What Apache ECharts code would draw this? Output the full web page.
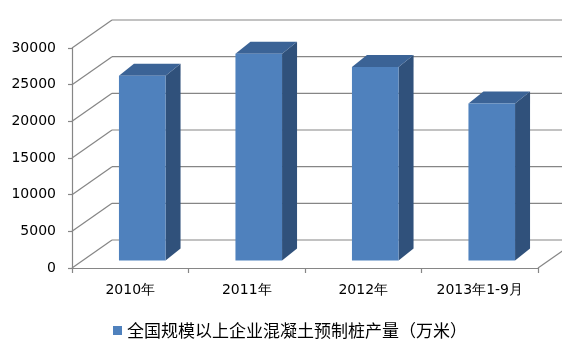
<!DOCTYPE html>
<html>
<head>
<meta charset="utf-8">
<script src="https://cdn.jsdelivr.net/npm/echarts@6/dist/echarts.min.js"></script>
<style>html,body{margin:0;padding:0;background:#fff;}#c{width:562px;height:349px;}</style>
</head>
<body>
<div id="c"></div>
<script>
const categories = ['2010年', '2011年', '2012年', '2013年1-9月'];
const values = [25200, 28200, 26400, 21400];
const yTicks = [0, 5000, 10000, 15000, 20000, 25000, 30000];
const seriesName = '全国规模以上企业混凝土预制桩产量（万米）';

// 3D styling constants (pixels)
const WALL_DX = 40, WALL_DY = -28;   // back wall offset
const FRONT_DX = 12, FRONT_DY = -7.5; // bar front face offset
const DEPTH_DX = 15, DEPTH_DY = -12;  // bar depth
const GRID_COLOR = '#868686';

const chart = echarts.init(document.getElementById('c'), null, {renderer: 'canvas'});

function gridItem(params, api) {
  const v = api.value(1);
  const band = api.size([1, 0])[0];
  const L = api.coord([0, v]);
  const R = api.coord([categories.length - 1, v]);
  const lx = L[0] - band / 2, rx = R[0] + band / 2, y = L[1];
  const style = {stroke: GRID_COLOR, lineWidth: 1.2, fill: null};
  const children = [
    {type: 'line', shape: {x1: lx, y1: y, x2: lx + WALL_DX, y2: y + WALL_DY}, style: style},
    {type: 'line', shape: {x1: lx + WALL_DX, y1: y + WALL_DY, x2: rx + WALL_DX + 40, y2: y + WALL_DY}, style: style}
  ];
  if (v === 0) {
    children.push({type: 'line', shape: {x1: rx, y1: y, x2: rx + WALL_DX, y2: y + WALL_DY}, style: style});
  }
  return {type: 'group', children: children, silent: true};
}

function barItem(params, api) {
  const idx = api.value(0), v = api.value(1);
  const base = api.coord([idx, 0]);
  const top = api.coord([idx, v]);
  const band = api.size([1, 0])[0];
  const w = band * 0.4;
  const x0 = base[0] - w / 2 + FRONT_DX, x1 = x0 + w;
  const yb = base[1] + FRONT_DY, yt = top[1] + FRONT_DY;
  return {
    type: 'group',
    children: [
      {type: 'polygon', shape: {points: [[x1, yt], [x1 + DEPTH_DX, yt + DEPTH_DY], [x1 + DEPTH_DX, yb + DEPTH_DY], [x1, yb]]},
        style: {fill: '#30517b'}},
      {type: 'polygon', shape: {points: [[x0, yt], [x0 + DEPTH_DX, yt + DEPTH_DY], [x1 + DEPTH_DX, yt + DEPTH_DY], [x1, yt]]},
        style: {fill: '#3b6396'}},
      {type: 'rect', shape: {x: x0, y: yt, width: w, height: yb - yt}, style: {fill: '#4f81bd'}}
    ]
  };
}

chart.setOption({
  animation: false,
  backgroundColor: '#ffffff',
  grid: {left: 72, right: 24, top: 48, bottom: 81, containLabel: false},
  legend: {
    data: [seriesName],
    left: 113, top: 322, padding: 0,
    icon: 'rect', itemWidth: 9, itemHeight: 9, itemGap: 5,
    textStyle: {fontSize: 17, color: '#000', fontFamily: 'Noto Sans CJK SC'}
  },
  xAxis: {
    type: 'category', data: categories, boundaryGap: true,
    axisLine: {show: true, lineStyle: {color: GRID_COLOR, width: 1.2}},
    axisTick: {show: true, length: 5, lineStyle: {color: GRID_COLOR, width: 1.2}},
    axisLabel: {margin: 15, fontSize: 14, color: '#000', fontFamily: 'DejaVu Sans'},
    splitLine: {show: false}
  },
  yAxis: {
    type: 'value', min: 0, max: 30000, interval: 5000,
    axisLine: {show: true, lineStyle: {color: GRID_COLOR, width: 1.2}},
    axisTick: {show: true, length: 4, lineStyle: {color: GRID_COLOR, width: 1.2}},
    axisLabel: {margin: 16, fontSize: 14, color: '#000', fontFamily: 'DejaVu Sans',
      formatter: function (v) { return String(v); }},
    splitLine: {show: false}
  },
  series: [
    {
      name: 'grid3d', type: 'custom', renderItem: gridItem, z: 1, silent: true,
      data: yTicks.map(v => [0, v]), encode: {x: 0, y: 1}, clip: false
    },
    {
      name: seriesName, type: 'custom', renderItem: barItem, z: 2,
      itemStyle: {color: '#4f81bd'},
      data: values.map((v, i) => [i, v]), encode: {x: 0, y: 1}, clip: false
    }
  ]
});
</script>
</body>
</html>
